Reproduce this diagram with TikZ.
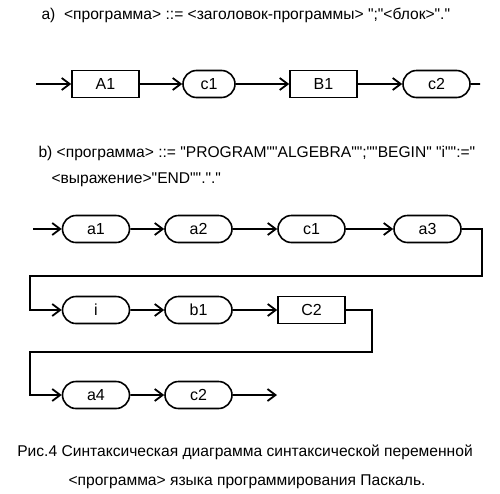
\documentclass[tikz,border=0pt]{standalone}
\usepackage{fontspec}
\setmainfont{Liberation Sans}[Ligatures=TeXOff]
\usetikzlibrary{arrows.meta,positioning,shapes.misc}

\begin{document}
\begin{tikzpicture}[x=1pt, y=-1pt,
    font=\fontsize{16}{18}\selectfont,
    term/.style={rounded rectangle, draw, line width=1.6pt, minimum width=67pt, minimum height=27pt, inner sep=0pt},
    nterm/.style={rectangle, draw, line width=1.6pt, minimum width=67pt, minimum height=27pt, inner sep=0pt},
    flow/.style={line width=1.8pt, -{Straight Barb[length=8pt, width=12pt]}},
    wire/.style={line width=1.8pt},
    txt/.style={font=\fontsize{15.6}{18}\selectfont}
]
\useasboundingbox (0,0) rectangle (500,493);

% a)
\node[txt, anchor=west] (ta) at (38,15) {a)\ \ <программа> ::= <заголовок-программы> ";"<блок>"."};

\coordinate (ina) at (36,84);
\node[nterm] (A1) at (105.5,84) {A1};
\node[term, minimum width=52pt] (ca1) at (209,84) {c1};
\node[nterm] (B1) at (323.5,84) {B1};
\node[term] (ca2) at (436.5,84) {c2};
\coordinate (outa) at (480,84);

\draw[flow] (ina) -- (A1);
\draw[flow] (A1) -- (ca1);
\draw[flow] (ca1) -- (B1);
\draw[flow] (B1) -- (ca2);
\draw[wire] (ca2) -- (outa);

% b)
\node[txt, anchor=west] (tb1) at (35,153) {b) <программа> ::= "PROGRAM""ALGEBRA"";""BEGIN" "i"":="};
\node[txt, anchor=west] (tb2) at (48,180) {<выражение>"END""."."};

\coordinate (inb) at (33,229);
\node[term] (a1) at (96,229) {a1};
\node[term] (a2) at (198.5,229) {a2};
\node[term] (cb1) at (311.5,229) {c1};
\node[term] (a3) at (427.5,229) {a3};

\node[term] (i) at (96,310) {i};
\node[term] (b1) at (198.5,310) {b1};
\node[nterm] (C2) at (311.5,310) {C2};

\node[term] (a4) at (96,395) {a4};
\node[term] (cb2) at (198.5,395) {c2};
\coordinate (outb) at (277,395);

\coordinate (r1) at (482,276);
\coordinate (l1) at (30,276);
\coordinate (r2) at (372,352);
\coordinate (l2) at (30,352);

\draw[flow] (inb) -- (a1);
\draw[flow] (a1) -- (a2);
\draw[flow] (a2) -- (cb1);
\draw[flow] (cb1) -- (a3);
\draw[flow] (a3.east) -| (r1) -- (l1) |- (i.west);
\draw[flow] (i) -- (b1);
\draw[flow] (b1) -- (C2);
\draw[flow] (C2.east) -| (r2) -- (l2) |- (a4.west);
\draw[flow] (a4) -- (cb2);
\draw[flow] (cb2) -- (outb);

% caption
\node[txt] (cap1) at (245,452) {Рис.4 Синтаксическая диаграмма синтаксической переменной};
\node[txt] (cap2) at (247,482) {<программа> языка программирования Паскаль.};
\end{tikzpicture}
\end{document}
